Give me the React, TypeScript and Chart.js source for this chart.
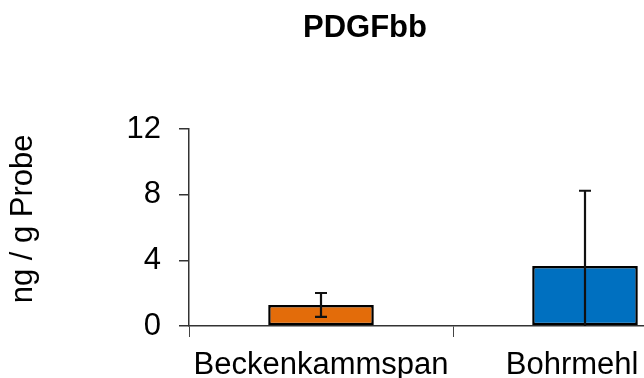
import React, { useEffect, useRef } from 'react';
import { Chart, registerables } from 'chart.js';

Chart.register(...registerables);

const categories = ['Beckenkammspan', 'Bohrmehl'];
const values = [1.28, 3.66];
const errors = [0.73, 4.58];
const barColors = ['#E36C0A', '#0070C0'];
const yTicks = [0, 4, 8, 12];
const chartTitle = 'PDGFbb';
const yTitle = 'ng / g Probe';

const FONT = "'Liberation Sans', Arial, sans-serif";
const FONT_SIZE = 31;

const errorBarPlugin = {
  id: 'errorBars',
  afterDatasetsDraw(chart: any) {
    const { ctx, chartArea, scales } = chart;
    const meta = chart.getDatasetMeta(0);
    ctx.save();
    ctx.beginPath();
    ctx.rect(chartArea.left, chartArea.top - 40, chartArea.right - chartArea.left, chartArea.bottom - chartArea.top + 40);
    ctx.clip();
    ctx.strokeStyle = '#111';
    ctx.lineWidth = 2.2;
    meta.data.forEach((bar: any, i: number) => {
      const x = Math.round(bar.x);
      const v = values[i];
      const e = errors[i];
      const yHi = scales.y.getPixelForValue(v + e);
      const yLo = scales.y.getPixelForValue(v - e);
      const cap = 6;
      ctx.beginPath();
      ctx.moveTo(x, yHi);
      ctx.lineTo(x, yLo);
      ctx.moveTo(x - cap, yHi);
      ctx.lineTo(x + cap, yHi);
      ctx.moveTo(x - cap, yLo);
      ctx.lineTo(x + cap, yLo);
      ctx.stroke();
    });
    ctx.restore();
  },
};

export default function App() {
  const ref = useRef<HTMLCanvasElement | null>(null);

  useEffect(() => {
    if (!ref.current) return;
    const chart = new Chart(ref.current, {
      type: 'bar',
      data: {
        labels: categories,
        datasets: [
          {
            data: values,
            backgroundColor: barColors,
            borderColor: '#000',
            borderWidth: 2.5,
            borderSkipped: false,
            categoryPercentage: 1,
            barPercentage: 0.4,
          },
        ],
      },
      options: {
        responsive: false,
        animation: false,
        devicePixelRatio: 1,
        layout: { padding: 0 },
        plugins: {
          legend: { display: false },
          tooltip: { enabled: false },
          title: {
            display: true,
            text: chartTitle,
            color: '#000',
            font: { family: FONT, size: FONT_SIZE, weight: 'bold' },
            padding: { top: 10, bottom: 81.8 },
          },
        },
        scales: {
          x: {
            type: 'category',
            offset: true,
            grid: {
              display: true,
              offset: true,
              drawOnChartArea: false,
              drawTicks: true,
              tickLength: 11,
              color: '#444',
            },
            border: { display: true, color: '#333', width: 1.5 },
            ticks: {
              color: '#000',
              font: { family: FONT, size: FONT_SIZE },
              padding: 10,
              maxRotation: 0,
              minRotation: 0,
              autoSkip: false,
              // the last label is nudged left so it stays inside the visible area, as in the original
              callback: (_v: any, i: number) => (i === categories.length - 1 ? categories[i] + '   ' : categories[i]),
            },
            afterFit: (s: any) => {
              s.height = 52;
            },
          },
          y: {
            position: 'left',
            min: 0,
            max: 12,
            afterBuildTicks: (s: any) => {
              s.ticks = yTicks.map((v) => ({ value: v }));
            },
            grid: {
              display: true,
              drawOnChartArea: false,
              drawTicks: true,
              tickLength: 10,
              color: '#333',
              lineWidth: 1.5,
            },
            border: { display: true, color: '#333', width: 1.5 },
            ticks: {
              color: '#000',
              font: { family: FONT, size: FONT_SIZE },
              padding: 18,
            },
            title: {
              display: true,
              text: '  ' + yTitle,
              color: '#000',
              font: { family: FONT, size: FONT_SIZE },
              padding: { top: 5, bottom: 0 },
            },
            afterFit: (s: any) => {
              s.width = 189;
            },
          },
          yRight: {
            position: 'right',
            display: true,
            grid: { display: false, drawTicks: false },
            border: { display: false },
            ticks: { display: false },
            afterFit: (s: any) => {
              s.width = 13;
            },
          },
        },
      },
      plugins: [errorBarPlugin],
    });
    return () => chart.destroy();
  }, []);

  return (
    <div
      style={{
        position: 'fixed',
        left: 0,
        top: 0,
        width: 644,
        height: 378,
        overflow: 'hidden',
        background: '#fff',
      }}
    >
      <canvas ref={ref} width={730} height={378} style={{ display: 'block', width: 730, height: 378 }} />
    </div>
  );
}
